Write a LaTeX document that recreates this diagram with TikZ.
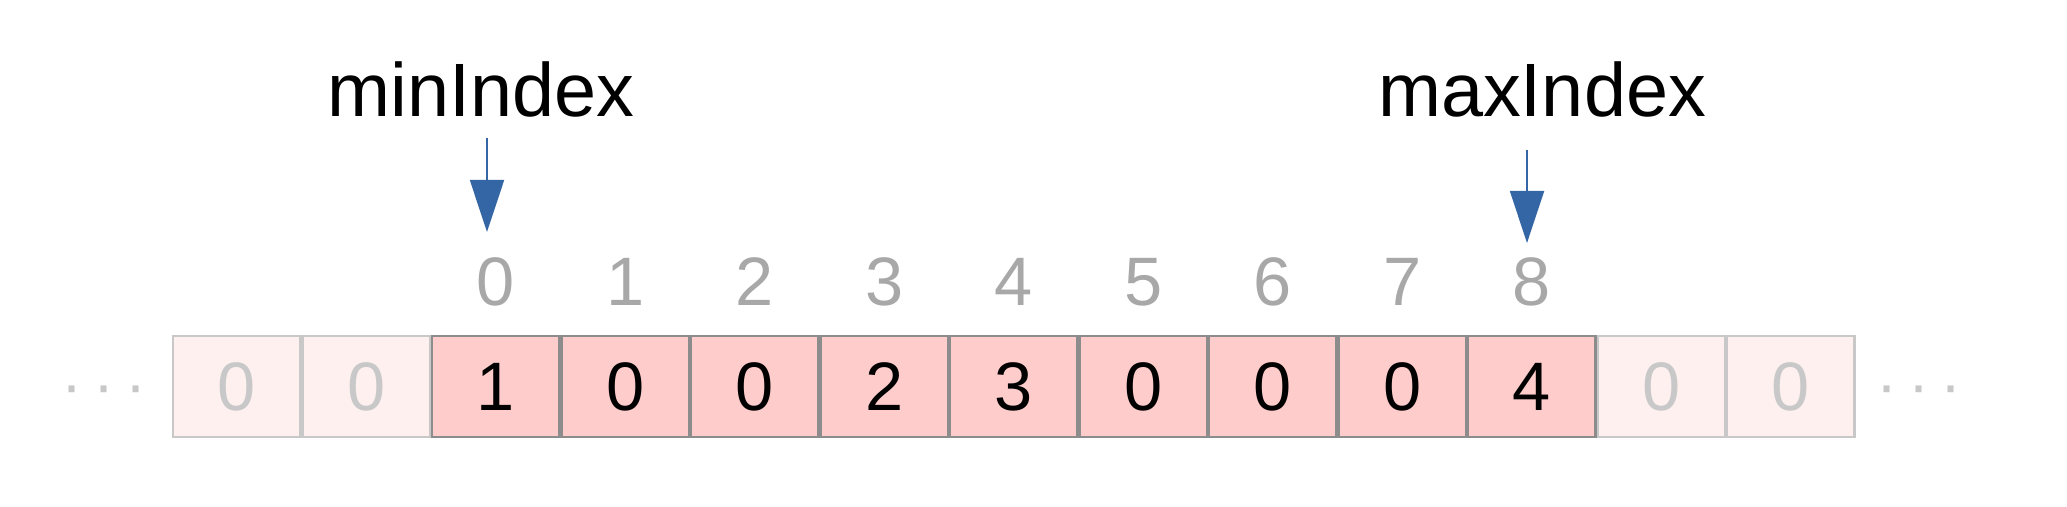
\documentclass[tikz,border=0pt]{standalone}
\usepackage{fontspec}
\setmainfont{Liberation Sans}
\usepackage{tikz}
\usetikzlibrary{positioning,arrows.meta}
\definecolor{cellfill}{HTML}{FFCCCC}
\definecolor{ghostfill}{HTML}{FFF0F0}
\definecolor{cellline}{HTML}{8C8C8C}
\definecolor{ghostline}{HTML}{C8C8C8}
\definecolor{idxgray}{HTML}{A8A8A8}
\definecolor{ptrblue}{HTML}{3465A4}

\begin{document}
\begin{tikzpicture}[
    x=0.01cm, y=-0.01cm,
    cell/.style={rectangle, draw=cellline, fill=cellfill, line width=0.7pt, minimum width=1.27cm, minimum height=1.005cm, inner sep=0pt, font=\fontsize{19.5}{19.5}\selectfont},
    ghost/.style={cell, draw=ghostline, fill=ghostfill, text=ghostline},
    idx/.style={inner sep=0pt, text=idxgray, font=\fontsize{19.5}{19.5}\selectfont},
    dots/.style={inner sep=0pt, anchor=base, text=ghostline, font=\fontsize{18}{18}\selectfont},
    label/.style={inner sep=0pt, anchor=base, font=\fontsize{21.5}{21.5}\selectfont},
    ptr/.style={-{Triangle[width=0.34cm, length=0.52cm]}, draw=ptrblue, fill=ptrblue, line width=0.5pt}
]
\useasboundingbox (0,0) rectangle (2067,507);

% Array cells (two faded cells on each side)
\foreach \v [count=\i] in {0,0,1,0,0,2,3,0,0,0,4,0,0} {
    \ifnum\i<3
        \node[ghost] (c\i) at ({172+129.5*(\i-0.5)}, 386.5) {\v};
    \else\ifnum\i>11
        \node[ghost] (c\i) at ({172+129.5*(\i-0.5)}, 386.5) {\v};
    \else
        \node[cell] (c\i) at ({172+129.5*(\i-0.5)}, 386.5) {\v};
    \fi\fi
}

% Index numbers above the used cells
\foreach \k [evaluate=\k as \j using int(\k+3)] in {0,...,8} {
    \node[idx] (n\k) at ([yshift=1.045cm]c\j.center) {\k};
}

% Dots on both ends
\node[dots] (ldots) at (104,407) {·\hspace{3.2pt}·\hspace{3.2pt}·};
\node[dots] (rdots) at (1919,407) {·\hspace{3.2pt}·\hspace{3.2pt}·};

% minIndex pointer
\node[label] (minlbl) at (481,117) {minIndex};
\coordinate (minfrom) at (487,138);
\coordinate (minto) at (487,232);
\draw[ptr] (minfrom) -- (minto);

% maxIndex pointer
\node[label] (maxlbl) at (1542,117) {maxIndex};
\coordinate (maxfrom) at (1527,150);
\coordinate (maxto) at (1527,243);
\draw[ptr] (maxfrom) -- (maxto);

\end{tikzpicture}
\end{document}
